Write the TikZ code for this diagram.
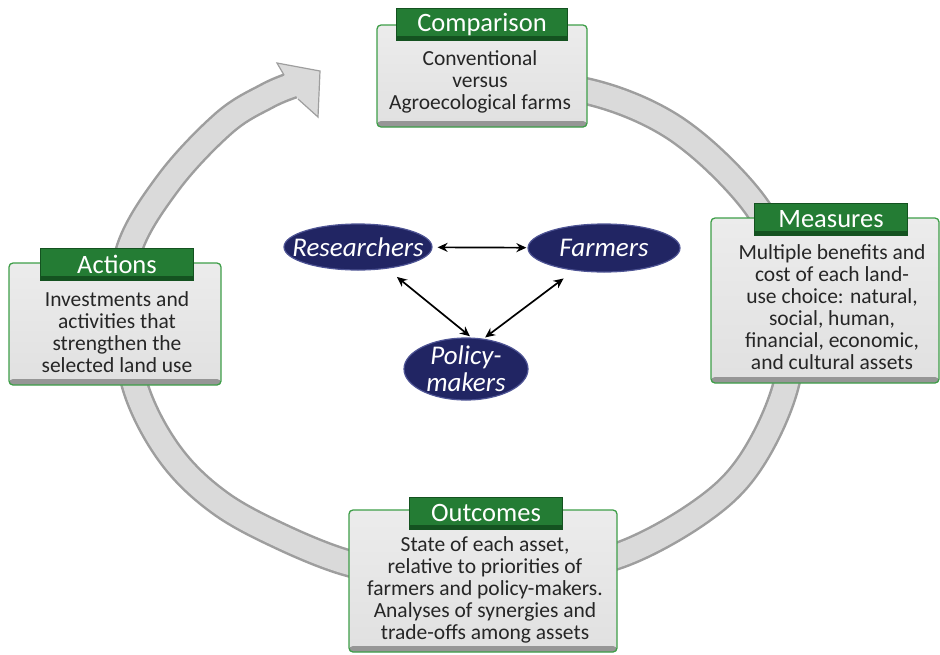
\documentclass[tikz,border=0pt]{standalone}
\usepackage{fontspec}
\setmainfont{Carlito}
\usepackage{xcolor}
\usetikzlibrary{arrows.meta,positioning,shapes.geometric}

\definecolor{tabgreen}{RGB}{36,124,52}
\definecolor{tabdark}{RGB}{20,82,32}
\definecolor{rimgreen}{RGB}{62,158,72}
\definecolor{paneldark}{RGB}{150,150,150}
\definecolor{ringlight}{RGB}{218,218,218}
\definecolor{ringdark}{RGB}{158,158,158}
\definecolor{navy}{RGB}{33,37,99}
\definecolor{navyrim}{RGB}{78,84,148}

\begin{document}
\begin{tikzpicture}[x=1pt,y=-1pt,
  panel/.style={draw=rimgreen, line width=1.3pt, rounded corners=4pt,
    top color=gray!15, bottom color=gray!24, inner sep=0pt,
    path picture={\fill[paneldark] ([yshift=6pt]path picture bounding box.south west)
      rectangle (path picture bounding box.south east);}},
  tabbox/.style={fill=tabgreen, draw=tabdark, line width=0.6pt, text=white,
    font=\fontsize{26.5}{30}\selectfont, minimum width=153pt, minimum height=32pt,
    inner xsep=21pt, inner ysep=0pt,
    path picture={\fill[tabdark] ([yshift=4pt]path picture bounding box.south west)
      rectangle (path picture bounding box.south east);}},
  body/.style={align=center, text=black!85, font=\fontsize{21.5}{22}\selectfont},
  party/.style={ellipse, fill=navy, draw=navyrim, line width=1.2pt, inner sep=0pt,
    text=white, align=center, font=\fontsize{27}{27}\selectfont\itshape},
  link/.style={<->, >={Stealth[length=10pt,width=9pt]}, line width=1.7pt, black}
]
\useasboundingbox (0,0) rectangle (940,654);

% the cycle arrow
\draw[draw=ringdark, line width=2.5pt, double=ringlight, double distance=23pt]
  plot[smooth, tension=0.6] coordinates {(430,86) (510,86) (590,92) (670,125)
  (737,183) (775,240) (790,310) (786,385) (750,463) (700,512) (620,555)
  (540,570) (470,572) (400,570) (348,563) (282,537) (220,503) (172,457)
  (138,395) (126,330) (128,253) (168,183) (224,123) (267,96) (293,85)};
\fill[ringlight] (284,75) -- (277,63) -- (320,71) -- (318,117) -- (298,99) -- cycle;
\draw[ringdark, line width=1.2pt] (284,75) -- (277,63) -- (320,71) -- (318,117) -- (298,99);

% the four steps
\node[panel, minimum width=210pt, minimum height=102pt] (comp) at (482,76) {};
\node[tabbox] (compT) at (comp.north) {Comparison};
\node[body] (compB) at (480,82) {Conventional\\versus\\Agroecological farms};

\node[panel, minimum width=228pt, minimum height=165pt] (meas) at (825,300.5) {};
\node[tabbox] (measT) at (831,219) {Measures};
\node[body] (measB) at (832,307) {Multiple benefits and\\cost of each land-\\use choice: natural,\\social, human,\\financial, economic,\\and cultural assets};

\node[panel, minimum width=268pt, minimum height=142pt] (out) at (483,581) {};
\node[tabbox] (outT) at (486,513) {Outcomes};
\node[body] (outB) at (485,590) {State of each asset,\\relative to priorities of\\farmers and policy-makers.\\Analyses of synergies and\\trade-offs among assets};

\node[panel, minimum width=212pt, minimum height=122pt] (act) at (115,324) {};
\node[tabbox] (actT) at (117,264) {Actions};
\node[body] (actB) at (117,332) {Investments and\\activities that\\strengthen the\\selected land use};

% the actors
\node[party, minimum width=148pt, minimum height=46pt] (res) at (358,247) {\makebox[0pt]{Researchers}};
\node[party, minimum width=152pt, minimum height=48pt] (farm) at (604,248) {\makebox[0pt]{Farmers}};
\node[party, minimum width=124pt, minimum height=62pt, inner ysep=-6pt] (pol) at (466,369) {\makebox[0pt]{Policy-}\\\makebox[0pt]{makers}};

\draw[link, shorten <=5pt, shorten >=1pt] (res) -- (farm);
\draw[link, shorten <=13pt, shorten >=2pt] (res.-37) -- (pol.80);
\draw[link, shorten <=13pt, shorten >=2pt] (farm.-143) -- (pol.60);
\end{tikzpicture}
\end{document}
